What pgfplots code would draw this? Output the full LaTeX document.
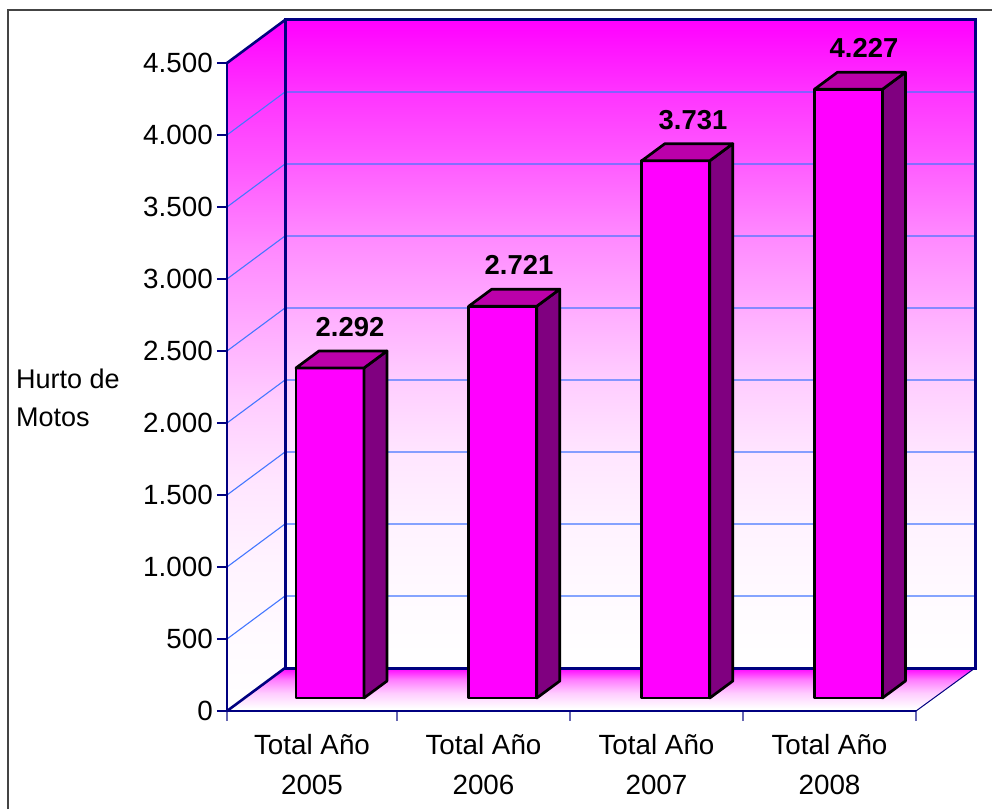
\documentclass[border=0pt]{standalone}
\usepackage{fontspec}
\setmainfont{Liberation Sans}
\usepackage{pgfplots}
\pgfplotsset{compat=1.18}

\definecolor{barfront}{HTML}{FF00FF}
\definecolor{bartop}{HTML}{BB00AA}
\definecolor{barside}{HTML}{800080}
\definecolor{wallnavy}{HTML}{000080}
\definecolor{gridblue}{HTML}{4477FF}
\definecolor{framegray}{HTML}{444444}

% Wall fade: magenta at the top, nearly white well before the floor
\pgfdeclareverticalshading{wallfade}{100bp}{%
  rgb(0bp)=(1,1,1);
  rgb(25bp)=(1,1,1);
  rgb(30.5bp)=(1,0.98,1);
  rgb(36bp)=(1,0.95,1);
  rgb(41.5bp)=(1,0.90,1);
  rgb(47.5bp)=(1,0.80,1);
  rgb(53bp)=(1,0.667,1);
  rgb(58.5bp)=(1,0.533,1);
  rgb(64bp)=(1,0.36,1);
  rgb(69.5bp)=(1,0.20,1);
  rgb(75bp)=(1,0,1);
  rgb(100bp)=(1,0,1)}
% Floor fade: magenta at the back wall, white along the front edge
\pgfdeclareverticalshading{floorfade}{100bp}{%
  rgb(0bp)=(1,1,1);
  rgb(28bp)=(1,1,1);
  rgb(46bp)=(1,0.80,1);
  rgb(61bp)=(1,0.50,1);
  rgb(75bp)=(1,0,1);
  rgb(100bp)=(1,0,1)}

\newcommand{\chartfont}{\fontsize{27.8}{39.5}\selectfont}

% Depth of the plot floor and of a bar, in value units (the axis holds 1pt = 1/0.144 units)
\newcommand{\walldepth}{298.6}
\newcommand{\bardepth}{118}
\newcommand{\barbase}{90.3}

\tikzset{barlabel/.style={font=\fontsize{27.4}{32}\selectfont\bfseries, anchor=base, inner sep=0pt}}

% One 3D column: left edge of the front face, value, centre of its value label
\newcommand{\column}[3]{%
  \pgfmathsetmacro{\xa}{#1}%
  \pgfmathsetmacro{\xb}{#1+68}%
  \pgfmathsetmacro{\xc}{#1+91}%
  \pgfmathsetmacro{\xd}{#1+23}%
  \pgfmathsetmacro{\yf}{\barbase}%
  \pgfmathsetmacro{\yb}{\barbase+\bardepth}%
  \pgfmathsetmacro{\yt}{#2+\barbase}%
  \pgfmathsetmacro{\yu}{#2+\barbase+\bardepth}%
  \pgfmathsetmacro{\yl}{#2+\barbase+\bardepth+100}%
  \edef\temp{%
    \noexpand\addplot[fill=barfront, draw=black, line width=2.7pt, line join=round, forget plot]
      coordinates {(\xa,\yf) (\xb,\yf) (\xb,\yt) (\xa,\yt)} -- cycle;
    \noexpand\addplot[fill=barside, draw=black, line width=2.7pt, line join=round, forget plot]
      coordinates {(\xb,\yf) (\xc,\yb) (\xc,\yu) (\xb,\yt)} -- cycle;
    \noexpand\addplot[fill=bartop, draw=black, line width=2.7pt, line join=round, forget plot]
      coordinates {(\xa,\yt) (\xb,\yt) (\xc,\yu) (\xd,\yu)} -- cycle;
    \noexpand\node[barlabel] at (axis cs:#3,\yl) {\noexpand\pgfmathprintnumber{#2}};
  }%
  \temp
}

% One gridline running across the side wall and the back wall
\newcommand{\gridline}[1]{%
  \pgfmathsetmacro{\yb}{#1+\walldepth}%
  \edef\temp{%
    \noexpand\addplot[gridblue, line width=1.1pt, forget plot]
      coordinates {(227,#1) (285,\yb) (975,\yb)};
  }%
  \temp
}

\begin{document}
\begin{tikzpicture}
  \path[use as bounding box] (-227pt,-98pt) rectangle (765pt,711pt);
  \begin{axis}[
    at={(0pt,0pt)}, anchor=south west,
    scale only axis,
    width=748pt, height=691pt,
    xmin=227, xmax=975,
    ymin=0, ymax=4798.6,
    clip=false,
    axis line style={draw=none},
    tick align=outside,
    ytick={0,500,1000,1500,2000,2500,3000,3500,4000,4500},
    ytick pos=left,
    xtick pos=bottom,
    major tick length=10pt,
    minor tick length=10pt,
    y tick style={wallnavy, line width=1.1pt},
    x tick style={draw=none},
    minor x tick style={draw=wallnavy!60, line width=1.2pt},
    xtick={312,483.5,656.5,829.5},
    xticklabels={{Total Año\\2005},{Total Año\\2006},{Total Año\\2007},{Total Año\\2008}},
    minor xtick={227,397,570,743,916},
    xticklabel style={font=\chartfont, align=center, inner sep=0pt, yshift=-13.5pt},
    yticklabel style={font=\chartfont, inner sep=0pt, xshift=-4pt},
    /pgf/number format/.cd, 1000 sep={.}, assume math mode=true,
  ]
    % Walls and floor
    \path[shading=wallfade]
      (axis cs:285,298.6) rectangle (axis cs:975,4798.6);
    \path[shading=wallfade]
      (axis cs:227,0) -- (axis cs:285,298.6) -- (axis cs:285,4798.6)
      -- (axis cs:227,4500) -- cycle;
    \path[shading=floorfade]
      (axis cs:227,0) -- (axis cs:916,0) -- (axis cs:975,298.6)
      -- (axis cs:285,298.6) -- cycle;

    % Gridlines
    \gridline{500}
    \gridline{1000}
    \gridline{1500}
    \gridline{2000}
    \gridline{2500}
    \gridline{3000}
    \gridline{3500}
    \gridline{4000}

    % Plot frame
    \addplot[wallnavy, line width=1.8pt, forget plot]
      coordinates {(227,0) (227,4500)};
    \addplot[wallnavy, line width=2.6pt, forget plot]
      coordinates {(227,4500) (285,4798.6)};
    \addplot[wallnavy, line width=2.6pt, forget plot]
      coordinates {(227,0) (285,298.6)};
    \addplot[wallnavy, line width=3pt, forget plot]
      coordinates {(285,298.6) (285,4798.6) (975,4798.6) (975,298.6) (285,298.6)};
    \addplot[wallnavy, line width=1.5pt, forget plot]
      coordinates {(227,0) (916,0)};
    \addplot[wallnavy, line width=1pt, forget plot]
      coordinates {(916,0) (975,298.6)};

    % Columns
    \column{296}{2292}{350}
    \column{468.8}{2721}{519}
    \column{641.8}{3731}{693}
    \column{814.4}{4227}{864}
  \end{axis}

  % Axis title and outer frame
  \node[anchor=base west, inner sep=0pt, font=\fontsize{27}{32}\selectfont] at (-211pt,322pt) {Hurto de};
  \node[anchor=base west, inner sep=0pt, font=\fontsize{27}{32}\selectfont] at (-211pt,284pt) {Motos};
  \draw[framegray, line width=1.6pt] (-219pt,-98pt) -- (-219pt,701pt) -- (765pt,701pt);
\end{tikzpicture}
\end{document}
